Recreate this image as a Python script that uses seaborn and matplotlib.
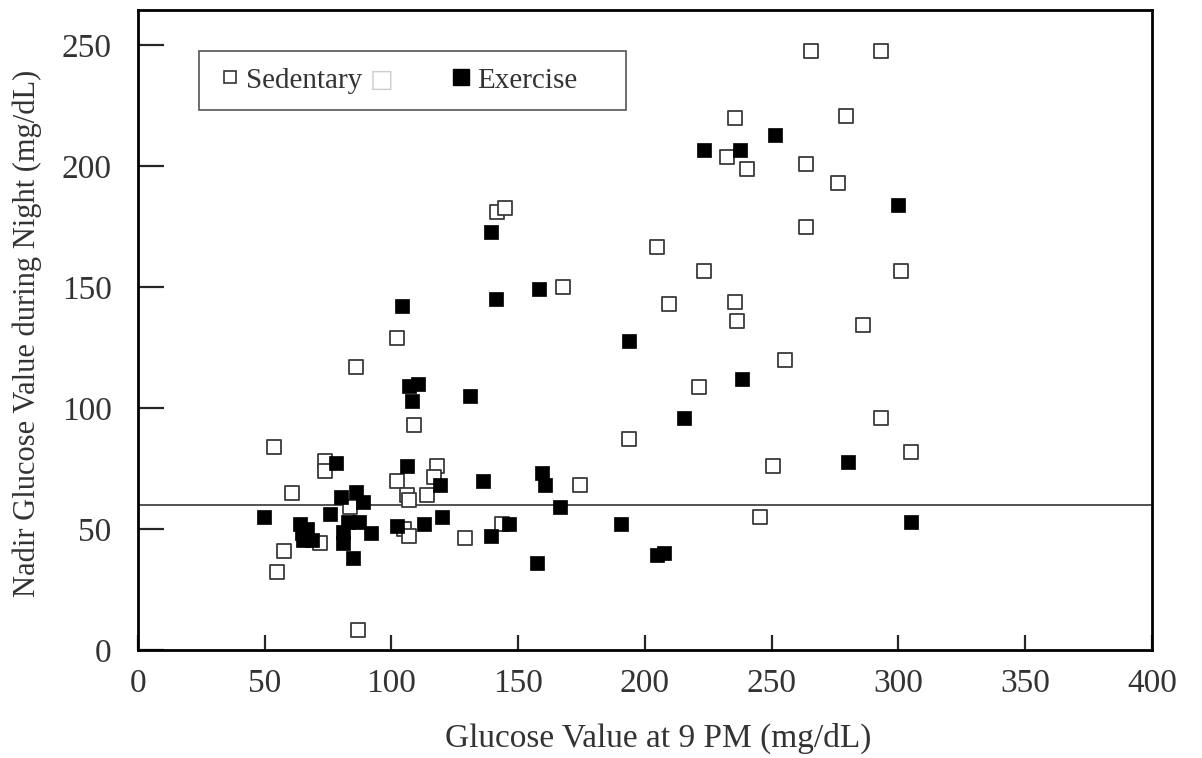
import pandas as pd
import seaborn as sns
import matplotlib.pyplot as plt
from matplotlib.lines import Line2D
from matplotlib.patches import Rectangle

# glucose at 9 PM (x) and nadir glucose during night (y)
sed_x = [141.5, 144.8, 167.5, 265.3, 293.1, 235.5, 279.2, 232.5, 240.4, 263.4,
         276.1, 263.4, 204.7, 223.4, 301.0, 209.6, 235.5, 236.4, 286.1, 102.0,
         85.9, 109.0, 193.7, 53.6, 73.8, 73.8, 118.0, 116.6, 102.0, 174.4,
         60.7, 83.8, 106.0, 107.0, 114.1, 71.8, 104.9, 107.0, 129.0, 143.7,
         57.6, 54.7, 86.9, 255.2, 221.4, 293.1, 304.9, 250.4, 245.4]
sed_y = [181.1, 182.5, 149.9, 247.7, 247.7, 219.7, 220.8, 203.8, 198.8, 200.8,
         192.8, 175.0, 166.7, 156.8, 156.8, 143.0, 143.9, 136.0, 134.3, 129.0,
         116.8, 93.0, 87.0, 84.0, 78.1, 74.0, 76.0, 71.4, 70.0, 68.2,
         65.0, 59.0, 64.0, 62.0, 64.0, 44.1, 50.0, 47.1, 46.1, 52.1,
         41.0, 32.1, 8.3, 119.8, 108.8, 96.0, 82.0, 76.0, 55.1]

ex_x = [139.3, 158.3, 141.2, 104.0, 251.3, 223.4, 237.5, 299.9, 193.7, 107.0,
        110.6, 108.0, 131.1, 78.0, 106.0, 119.1, 136.2, 159.5, 160.4, 80.0,
        85.9, 88.9, 166.5, 49.6, 75.7, 120.0, 63.8, 66.5, 64.6, 65.2,
        68.5, 83.0, 87.0, 81.0, 81.0, 91.9, 84.9, 102.0, 113.0, 139.3,
        146.4, 157.3, 190.5, 238.4, 215.5, 280.2, 304.9, 204.6, 207.6]
ex_y = [172.9, 149.0, 144.9, 142.1, 212.8, 206.6, 206.6, 183.9, 127.8, 109.2,
        109.9, 103.0, 105.0, 77.1, 76.0, 68.2, 70.0, 73.0, 68.2, 63.1,
        65.2, 61.0, 59.0, 55.1, 56.1, 55.1, 52.1, 50.0, 48.2, 45.5,
        45.5, 53.0, 53.0, 48.9, 44.1, 48.2, 38.2, 51.2, 52.1, 47.1,
        52.1, 36.1, 52.1, 111.9, 96.0, 77.8, 53.0, 39.3, 40.0]

threshold = 60

sed = pd.DataFrame({"x": sed_x, "y": sed_y})
ex = pd.DataFrame({"x": ex_x, "y": ex_y})

sns.set_style("ticks")
plt.rcParams["font.family"] = ["Liberation Serif", "DejaVu Sans"]

fig = plt.figure(figsize=(12.02, 7.58), dpi=100)
ax = fig.add_axes([0.1148, 0.1425, 0.8436, 0.8443])

sns.scatterplot(data=sed, x="x", y="y", ax=ax, marker="s", s=90,
                facecolor="white", edgecolor="#3a3a3a", linewidth=1.3, zorder=3)
sns.scatterplot(data=ex, x="x", y="y", ax=ax, marker="s", s=100,
                color="black", edgecolor="black", linewidth=0.5, zorder=4)

ax.axhline(threshold, color="#444444", lw=1.3, zorder=2)

ax.set_xlim(0, 400)
ax.set_ylim(0, 264.5)
ax.set_xticks(range(0, 401, 50))
ax.set_yticks(range(0, 251, 50))

for sp in ax.spines.values():
    sp.set_visible(True)
    sp.set_color("black")
    sp.set_linewidth(2)

ax.tick_params(axis="y", direction="in", length=19, width=1.6, pad=19,
               labelsize=24, labelcolor="#333333")
ax.tick_params(axis="x", direction="in", length=11, width=1.6, pad=13,
               labelsize=24, labelcolor="#333333")

ax.set_xlabel("Glucose Value at 9 PM (mg/dL)", fontsize=24, color="#333333")
ax.set_ylabel("Nadir Glucose Value during Night (mg/dL)", fontsize=22,
              color="#333333")
ax.xaxis.set_label_coords(0.513, -0.113)
ax.yaxis.set_label_coords(-0.095, 0.495)

# legend box
ax.add_patch(Rectangle((0.06, 0.844), 0.421, 0.092, transform=ax.transAxes,
                       fill=False, edgecolor="#555555", lw=1.2, zorder=5))
handles = [
    Line2D([], [], ls="", marker="s", ms=9, mfc="white", mec="#333333", mew=1.2),
    Line2D([], [], ls="", marker="s", ms=12, mfc="black", mec="black"),
]
ax.legend(handles, ["Sedentary", "Exercise"], ncol=2, frameon=False,
          loc="center left", bbox_to_anchor=(0.082, 0.89), borderpad=0,
          borderaxespad=0, handlelength=0.6, handletextpad=0.25,
          columnspacing=3.1, prop={"size": 21},
          labelcolor="#333333")
ax.text(0.2405, 0.89, "\u25a1", transform=ax.transAxes, fontsize=18,
        color="#cccccc", ha="center", va="center", family="DejaVu Sans")

fig.savefig("out.png", dpi=100)
